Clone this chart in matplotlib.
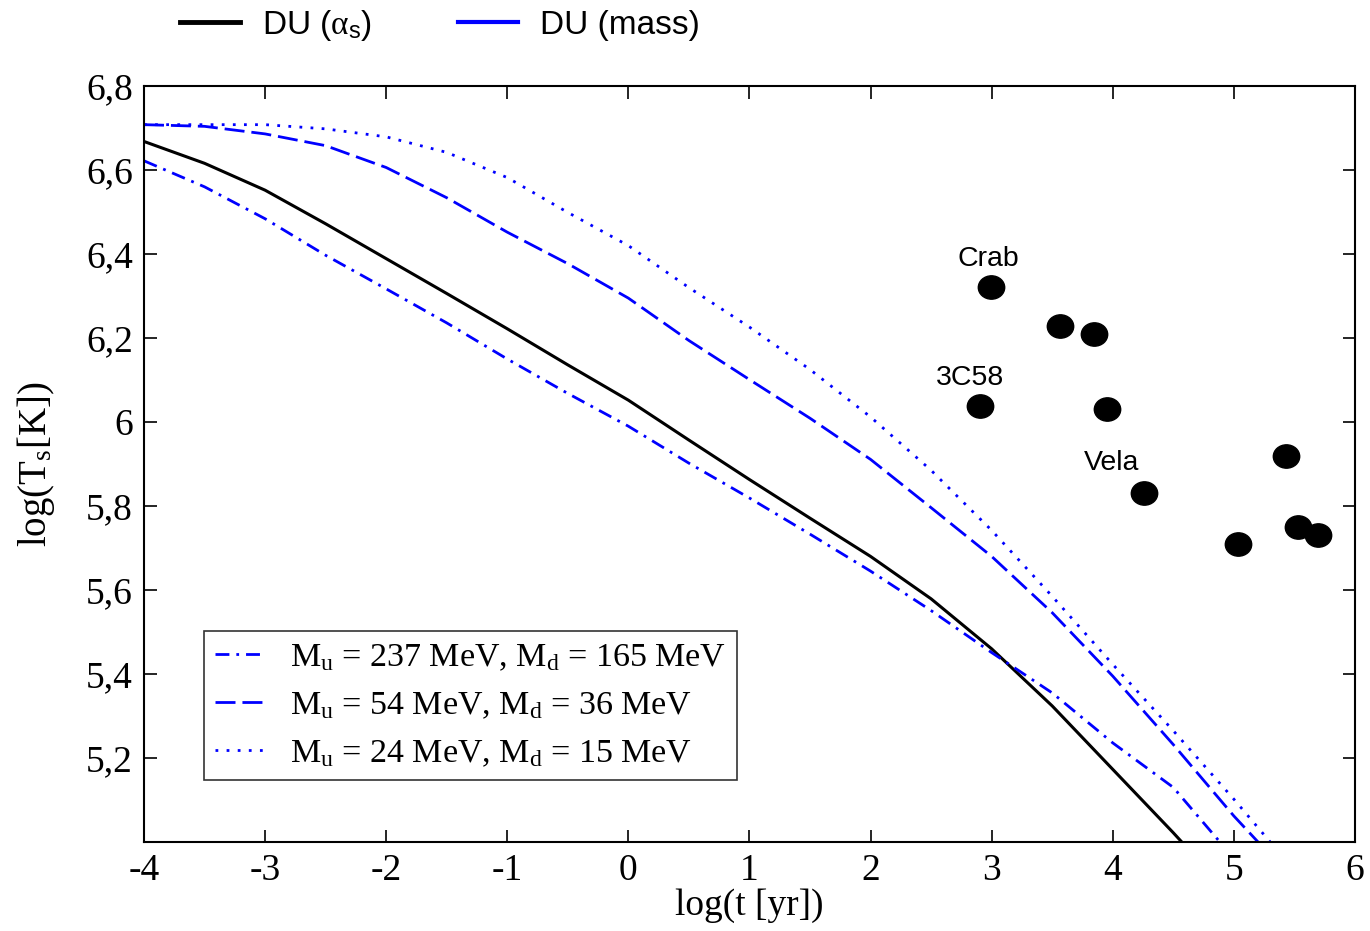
import matplotlib.pyplot as plt
from matplotlib.lines import Line2D
from matplotlib.path import Path
import numpy as np

plt.rcParams['mathtext.fontset'] = 'custom'
plt.rcParams['mathtext.rm'] = 'Liberation Serif'
plt.rcParams['mathtext.it'] = 'Liberation Serif:italic'
plt.rcParams['mathtext.sf'] = 'Liberation Sans'

# curves: log(t [yr]) vs log(Ts [K])
t_alpha = [-4, -3.5, -3, -2.5, -2, -1.5, -1, -0.5, 0, 0.5, 1, 1.5, 2, 2.5, 3, 3.5, 4, 4.5, 4.57]
T_alpha = [6.668, 6.616, 6.552, 6.472, 6.389, 6.306, 6.222, 6.136, 6.052, 5.957, 5.863, 5.771,
           5.680, 5.579, 5.460, 5.324, 5.173, 5.022, 5.0]

t_m237 = [-4, -3.5, -3, -2.5, -2, -1.5, -1, -0.5, 0, 0.5, 1, 1.5, 2, 2.5, 3, 3.5, 4, 4.5, 4.885]
T_m237 = [6.622, 6.560, 6.484, 6.397, 6.317, 6.236, 6.150, 6.068, 5.990, 5.902, 5.819, 5.733,
          5.645, 5.551, 5.451, 5.355, 5.236, 5.130, 5.0]

t_m54 = [-4, -3.5, -3, -2.5, -2, -1.5, -1, -0.5, 0, 0.5, 1, 1.5, 2, 2.5, 3, 3.5, 4, 4.5, 5, 5.20]
T_m54 = [6.708, 6.704, 6.686, 6.658, 6.606, 6.534, 6.452, 6.377, 6.295, 6.194, 6.101, 6.009,
         5.911, 5.796, 5.680, 5.546, 5.395, 5.232, 5.062, 5.0]

t_m24 = [-4, -3.5, -3, -2.5, -2, -1.5, -1, -0.5, 0, 0.5, 1, 1.5, 2, 2.5, 3, 3.5, 4, 4.5, 5, 5.30]
T_m24 = [6.708, 6.708, 6.708, 6.698, 6.679, 6.642, 6.582, 6.499, 6.420, 6.320, 6.226, 6.125,
         6.012, 5.885, 5.742, 5.585, 5.423, 5.265, 5.102, 5.0]

# observed pulsars
obs_t = [2.994, 3.567, 3.845, 2.906, 3.955, 4.258, 5.428, 5.037, 5.527, 5.697]
obs_T = [6.321, 6.229, 6.209, 6.039, 6.030, 5.830, 5.920, 5.710, 5.750, 5.730]

names = ['Crab', '3C58', 'Vela']
name_t = [2.97, 2.82, 3.99]
name_T = [6.388, 6.105, 5.902]

xticks = [-4, -3, -2, -1, 0, 1, 2, 3, 4, 5, 6]
yticks = [5.2, 5.4, 5.6, 5.8, 6.0, 6.2, 6.4, 6.6, 6.8]
ylabels = ['5,2', '5,4', '5,6', '5,8', '6', '6,2', '6,4', '6,6', '6,8']

serif = 'Liberation Serif'
sans = 'Liberation Sans'

fig = plt.figure(figsize=(13.7, 9.31), dpi=100)
ax = fig.add_axes([0.1051, 0.0956, 0.8839, 0.812])

ax.plot(t_alpha, T_alpha, color='black', lw=2.2)
l1, = ax.plot(t_m237, T_m237, color='blue', lw=2, dashes=(5, 2.5, 1, 2.5),
              label=r'M$_\mathregular{u}$ = 237 MeV, M$_\mathregular{d}$ = 165 MeV')
l2, = ax.plot(t_m54, T_m54, color='blue', lw=2, dashes=(7.2, 2.5),
              label=r'M$_\mathregular{u}$ = 54 MeV, M$_\mathregular{d}$ = 36 MeV')
l3, = ax.plot(t_m24, T_m24, color='blue', lw=2, dashes=(1, 3),
              label=r'M$_\mathregular{u}$ = 24 MeV, M$_\mathregular{d}$ = 15 MeV')

# slightly wide ellipse markers like the original
circ = Path.unit_circle()
ell = Path(circ.vertices * np.array([1.13, 1.0]), circ.codes)
ax.plot(obs_t, obs_T, ls='none', marker=ell, markersize=19, color='black')

for n, x, y in zip(names, name_t, name_T):
    ax.text(x, y, n, ha='center', va='center', fontsize=20.5, family=sans)

ax.set_xlim(-4, 6)
ax.set_ylim(5.0, 6.8)
ax.set_xticks(xticks)
ax.set_xticklabels([str(v) for v in xticks], family=serif)
ax.set_yticks(yticks)
ax.set_yticklabels(ylabels, family=serif)
ax.tick_params(direction='in', length=9, width=1.2, labelsize=27, top=True, right=True)
ax.tick_params(axis='x', pad=8)
ax.tick_params(axis='y', pad=8)
for s in ax.spines.values():
    s.set_linewidth(1.5)

ax.set_xlabel('log(t [yr])', family=serif, fontsize=27, va='top')
ax.xaxis.set_label_coords(0.5, -0.061)
ax.set_ylabel(r'log(T$_\mathregular{s}$[K])', family=serif, fontsize=28)
ax.yaxis.set_label_coords(-0.072, 0.5)

leg = ax.legend(handles=[l1, l2, l3], loc='lower left', bbox_to_anchor=(0.0495, 0.082),
                borderaxespad=0, prop={'family': serif, 'size': 24.5}, frameon=True,
                fancybox=False, edgecolor='black', handlelength=1.47, handletextpad=0.72,
                labelspacing=0.5, borderpad=0.33)
leg.get_frame().set_linewidth(1.2)

top_handles = [Line2D([], [], color='black', lw=3.5), Line2D([], [], color='blue', lw=3)]
fig.legend(top_handles, [r'DU ($\mathrm{\alpha}_\mathsf{s}$)', 'DU (mass)'],
           loc='center left', bbox_to_anchor=(0.1316, 0.973), ncol=2, frameon=False,
           prop={'family': sans, 'size': 24}, handlelength=1.8, handletextpad=0.66,
           columnspacing=2.58, borderaxespad=0, borderpad=0)

fig.savefig('out.png', dpi=100)
